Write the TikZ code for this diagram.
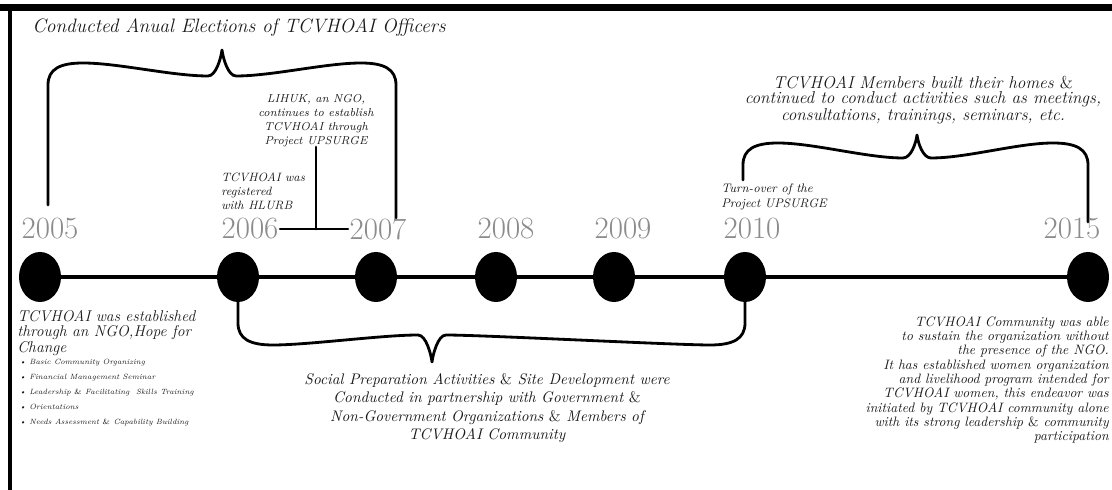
\documentclass[tikz,border=0pt]{standalone}
\usepackage{tikz}
\usetikzlibrary{shapes.geometric}
\newcommand{\andsign}{{\upshape\&}}
\newcommand{\swoopbrace}[9]{% xl yl xr yr xc yc ys yd s
  \draw[bracestroke] (#1,#2) -- (#1,{#7+#9*22}) .. controls (#1,{#7+#9*6}) and ({#1+12},#7) .. ({#1+35},#7)
    .. controls ({#1+70},#7) and ({#5-50},#8) .. ({#5-14},#8)
    .. controls ({#5-6},#8) and ({#5-1},{#6+#9*8}) .. (#5,#6)
    .. controls ({#5+1},{#6+#9*8}) and ({#5+6},#8) .. ({#5+14},#8)
    .. controls ({#5+50},#8) and ({#3-70},#7) .. ({#3-35},#7)
    .. controls ({#3-12},#7) and (#3,{#7+#9*6}) .. (#3,{#7+#9*22}) -- (#3,#4);}
\begin{document}
\begin{tikzpicture}[x=0.025cm,y=-0.025cm,line cap=round,line join=round,
  yeardot/.style={ellipse,fill=black,inner sep=0pt,minimum width=1.05cm,minimum height=1.25cm},
  yearlabel/.style={text=black!45,font=\fontsize{22}{22}\selectfont,inner sep=1pt},
  axisline/.style={line width=2.8pt},
  bracestroke/.style={line width=2pt},
  note/.style={text=black!90,inner sep=0pt}]
\useasboundingbox (0,0) rectangle (1112,490);
% frame
\fill[black] (0,4) rectangle (1112,11);
\fill[black] (8,4) rectangle (12,490);

% braces
\swoopbrace{48}{205}{396}{218}{222}{50}{63}{76}{1}
\swoopbrace{743}{180}{1088}{222}{917}{135}{143}{158}{1}
\swoopbrace{238}{290}{745}{290}{432}{362}{345}{335}{-1}

% dots and years
\foreach \yr/\dx/\lx in {2005/40/50,2006/238/250,2007/376/378,2008/496/506,2009/614/623,2010/745/752,2015/1088/1072}{
  \node[yeardot] (d\yr) at (\dx,277) {};
  \node[yearlabel] (y\yr) at (\lx,229) {\yr};
}
\foreach \a/\b in {2005/2006,2006/2007,2007/2008,2008/2009,2009/2010,2010/2015}
  \draw[axisline] (d\a) -- (d\b);

% texts
\node[note,anchor=west,font=\itshape\fontsize{13.8}{15}\selectfont] (elect) at (32,28) {Conducted Anual Elections of TCVHOAI Officers};
\node[note,anchor=south,align=center,font=\itshape\fontsize{8.2}{10}\selectfont] (lihuk) at (316,147)
  {LIHUK, an NGO,\\ continues to establish\\ TCVHOAI through\\ Project UPSURGE};
\node[note,anchor=west,align=left,font=\itshape\fontsize{8.6}{10}\selectfont] (hlurb) at (221,191)
  {TCVHOAI was\\ registered\\ with HLURB};
\coordinate (jn) at (lihuk.south |- y2006.east);
\draw[bracestroke] (lihuk.south) -- (jn);
\draw[bracestroke] (y2006.east) -- (y2007.west);

\node[note,align=center,font=\itshape\fontsize{12.2}{10.8}\selectfont] (homes) at (923,100)
  {TCVHOAI Members built their homes \andsign\\ continued to conduct activities such as meetings,\\ consultations, trainings, seminars, etc.};
\node[note,anchor=west,align=left,font=\itshape\fontsize{8.8}{10.5}\selectfont] (turn) at (721,197)
  {Turn-over of the\\ Project UPSURGE};

\node[note,anchor=north west,align=left,font=\itshape\fontsize{11.1}{11}\selectfont] (hope) at (17,310)
  {TCVHOAI was established\\ through an NGO,Hope for\\ Change};
\node[note,anchor=north west,align=left,font=\itshape\fontsize{5.4}{10.6}\selectfont] (tasks) at (19,359)
  {\textbullet\ Basic Community Organizing\\ \textbullet\ Financial Management Seminar\\ \textbullet\ Leadership \andsign\ Facilitating\ \ Skills Training\\ \textbullet\ Orientations\\ \textbullet\ Needs Assessment \andsign\ Capability Building};

\node[note,align=center,font=\itshape\fontsize{10.9}{13.2}\selectfont] (socprep) at (487,408)
  {Social Preparation Activities \andsign\ Site Development were\\ Conducted in partnership with Government \andsign\\ Non-Government Organizations \andsign\ Members of\\ TCVHOAI Community};

\node[note,anchor=east,align=right,font=\itshape\fontsize{9.7}{10.2}\selectfont] (sustain) at (1109,380)
  {TCVHOAI Community was able\\ to sustain the organization without\\ the presence of the NGO.\\ It has established women organization\\ and livelihood program intended for\\ TCVHOAI women, this endeavor was\\ initiated by TCVHOAI community alone\\ with its strong leadership \andsign\ community\\ participation};
\end{tikzpicture}
\end{document}
